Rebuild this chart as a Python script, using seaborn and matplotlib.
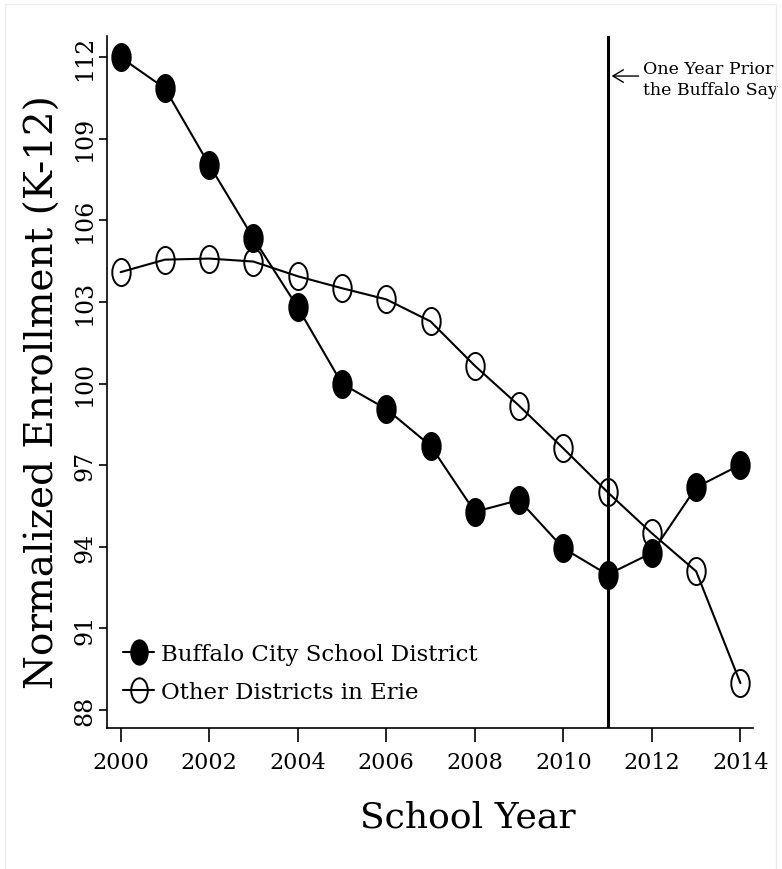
import numpy as np
import pandas as pd
import matplotlib
matplotlib.use("Agg")
import matplotlib.pyplot as plt
import seaborn as sns
from matplotlib.path import Path
from matplotlib.patches import Rectangle

# ── data ──────────────────────────────────────────
years = list(range(2000, 2015))
buffalo = [112.0, 110.86, 108.05, 105.35, 102.81, 100.0, 99.07, 97.72,
           95.29, 95.72, 93.95, 92.98, 93.78, 96.19, 97.02]
others = [104.10, 104.56, 104.60, 104.49, 103.95, 103.51, 103.10, 102.29,
          100.66, 99.19, 97.62, 96.01, 94.50, 93.10, 88.99]
series_names = ["Buffalo City School District", "Other Districts in Erie"]
event_year = 2011
note_text = "One Year Prior\nthe Buffalo Say"
x_ticks = list(range(2000, 2015, 2))
y_ticks = list(range(88, 113, 3))

df = pd.DataFrame({"year": years, "buffalo": buffalo, "others": others})

# ── style ─────────────────────────────────────────
sns.set_style("ticks")
plt.rcParams["font.family"] = ["DejaVu Serif"]
for k in ("text.color", "axes.labelcolor", "xtick.color", "ytick.color",
          "axes.edgecolor"):
    plt.rcParams[k] = "black"

# tall ellipse marker like Stata's
circ = Path.unit_circle()
ellipse = Path(circ.vertices * np.array([0.68, 1.0]), circ.codes)

fig = plt.figure(figsize=(7.82, 8.7), dpi=100)
ax = fig.add_axes([0.1372, 0.1617, 0.8261, 0.7954])

sns.lineplot(data=df, x="year", y="buffalo", ax=ax, color="black", lw=1.5,
             marker=ellipse, markersize=19.5, markerfacecolor="black",
             markeredgecolor="black", markeredgewidth=1.4, label=series_names[0])
sns.lineplot(data=df, x="year", y="others", ax=ax, color="black", lw=1.5,
             marker=ellipse, markersize=19.5, markerfacecolor="none",
             markeredgecolor="black", markeredgewidth=1.4, label=series_names[1])

ax.axvline(event_year, color="black", lw=2.2, zorder=1)

# arrow + note
ax.annotate("", xy=(2011.09, 111.31), xytext=(2011.70, 111.31),
            arrowprops=dict(arrowstyle="->,head_length=0.75,head_width=0.45",
                            lw=1.0, color="black", shrinkA=0, shrinkB=0))
ax.text(2011.79, 111.2, note_text, fontsize=12.5, va="center", ha="left",
        linespacing=1.25, clip_on=False)

ax.set_xlim(1999.70, 2014.29)
ax.set_ylim(87.33, 112.77)
ax.set_xticks(x_ticks)
ax.set_yticks(y_ticks)
ax.tick_params(axis="x", labelsize=16, length=10, width=1.2, pad=6)
ax.tick_params(axis="y", labelsize=17, length=6, width=1.2, pad=2)
for lab in ax.get_yticklabels():
    lab.set_rotation(90)
    lab.set_va("center")

ax.set_xlabel("School Year", fontsize=26)
ax.set_ylabel("Normalized Enrollment (K-12)", fontsize=28)
ax.xaxis.set_label_coords(0.558, -0.128)
ax.yaxis.set_label_coords(-0.0995, 0.4867)
ax.xaxis.label.set_va("center")
ax.yaxis.label.set_va("center")

sns.despine(ax=ax)
for s in ("left", "bottom"):
    ax.spines[s].set_linewidth(1.2)

ax.legend(loc="lower left", bbox_to_anchor=(0.0243, 0.0366), frameon=False,
          fontsize=16.5, handlelength=1.36, handletextpad=0.3, labelspacing=0.7,
          borderpad=0, borderaxespad=0, markerscale=0.9)

# faint outer frame of the graph region
fig.patches.append(Rectangle((5 / 782, -0.1), 771 / 782, 1.1 - 5 / 870,
                             transform=fig.transFigure, fill=False,
                             edgecolor="#ececec", lw=1.0))

fig.savefig("out.png", dpi=100)
